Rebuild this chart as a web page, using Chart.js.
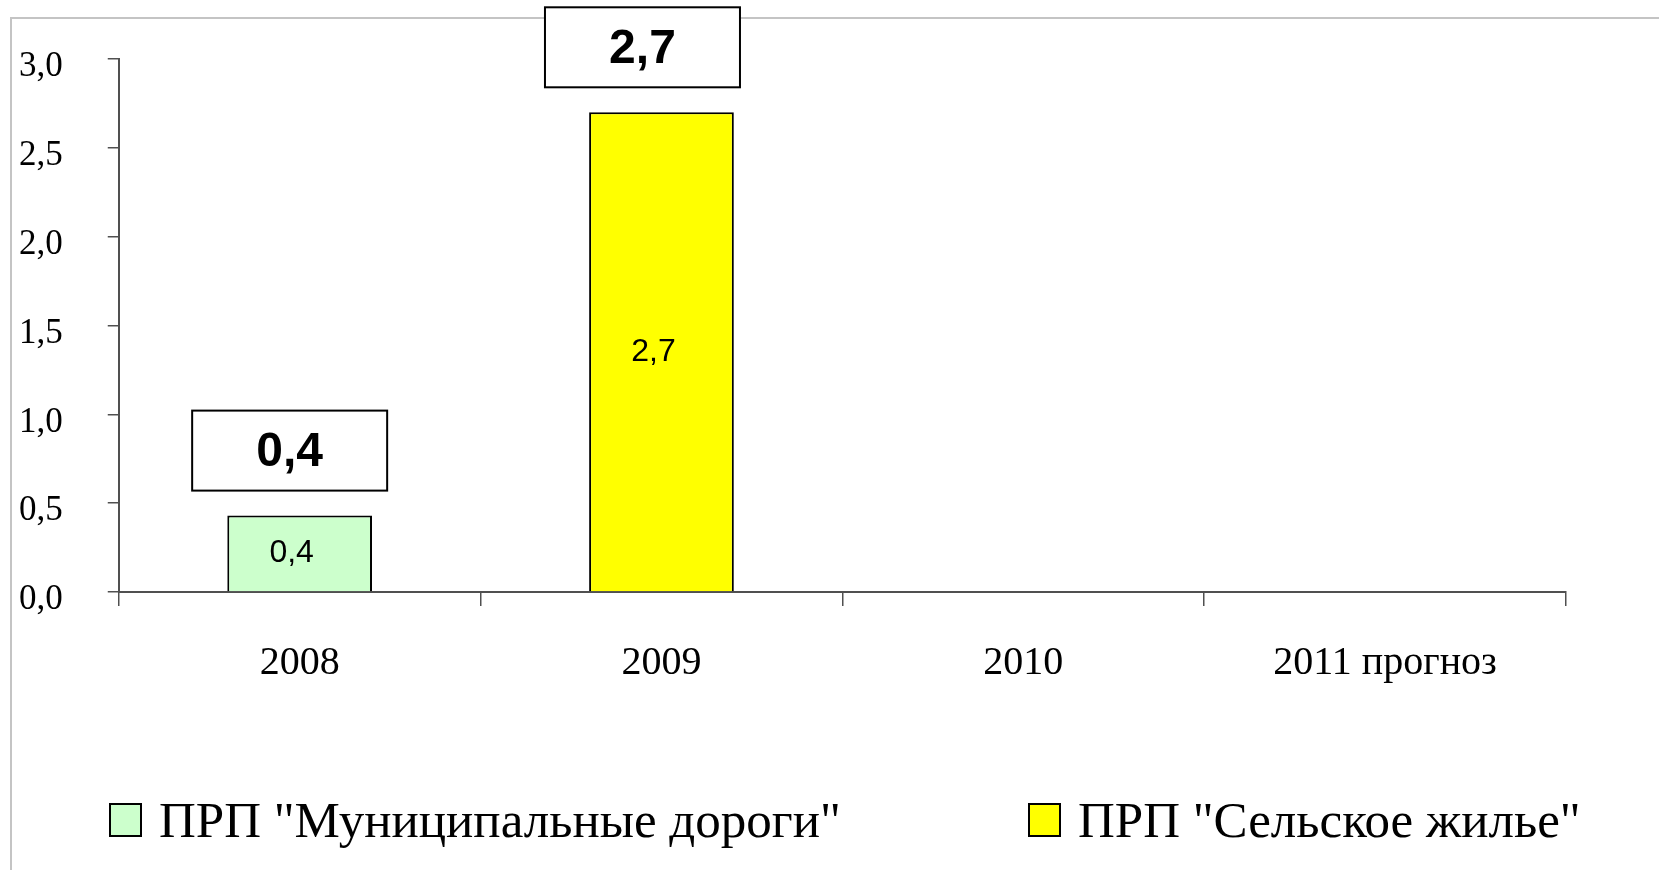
<!DOCTYPE html>
<html>
<head>
<meta charset="utf-8">
<script src="https://cdn.jsdelivr.net/npm/chart.js@4"></script>
<style>
  html, body { margin: 0; padding: 0; background: #fff; overflow: hidden; }
  #wrap { position: relative; width: 1659px; height: 870px; }
  #frame { position: absolute; left: 10px; top: 17px; width: 1700px; height: 900px;
           border-top: 2px solid #c4c4c4; border-left: 2px solid #c4c4c4; }
  #graph01 { position: absolute; left: 0; top: 0; }
  .leg-item { position: absolute; top: 792px; height: 56px; display: flex; align-items: center;
              font: 51px "Liberation Serif", "Times New Roman", serif; color: #000; white-space: nowrap; }
  .leg-box { width: 29px; height: 30px; border: 2px solid #000; margin-right: 17px; }
</style>
</head>
<body>
<div id="wrap">
  <div id="frame"></div>
  <canvas id="graph01" width="1659" height="870"></canvas>
  <div id="legenda"></div>
</div>
<script>
const categorias = ['2008', '2009', '2010', '2011 прогноз']
const serieNomes = ['ПРП "Муниципальные дороги"', 'ПРП "Сельское жилье"']
const dorogi = [0.43, null, null, null]
const zhilye = [null, 2.7, null, null]
const yTicks = [0, 0.5, 1.0, 1.5, 2.0, 2.5, 3.0]

const fmt = v => Number(v).toFixed(1).replace('.', ',')

// deslocamento horizontal das caixas (por serie)
const caixaShift = [-10, -19]

// caixas com o valor em cima de cada barra + numero dentro da barra
const labelsPlugin = {
  id: 'labelsPlugin',
  afterDatasetsDraw(chart) {
    const ctx = chart.ctx
    chart.data.datasets.forEach((ds, i) => {
      const meta = chart.getDatasetMeta(i)
      meta.data.forEach((bar, j) => {
        const v = ds.data[j]
        if (v === null || v === undefined) return
        ctx.save()
        // numero dentro
        ctx.fillStyle = '#000'
        ctx.font = '32px "Liberation Sans", Arial, sans-serif'
        ctx.textAlign = 'center'
        ctx.textBaseline = 'middle'
        ctx.fillText(fmt(v), bar.x - 8, (bar.y + bar.base) / 2)
        // caixa
        const w = 195, h = 80
        const cx = bar.x + caixaShift[i]
        const bottom = bar.y - 25
        ctx.fillStyle = '#fff'
        ctx.fillRect(cx - w / 2, bottom - h, w, h)
        ctx.lineWidth = 2
        ctx.strokeStyle = '#000'
        ctx.strokeRect(cx - w / 2, bottom - h, w, h)
        ctx.fillStyle = '#000'
        ctx.font = 'bold 48px "Liberation Sans", Arial, sans-serif'
        ctx.fillText(fmt(v), cx, bottom - h / 2 + 2)
        ctx.restore()
      })
    })
  }
}

const line01 = document.getElementById('graph01')

const grafico = new Chart(line01, {
  type: 'bar',
  data: {
    labels: categorias,
    datasets: [
      {
        label: serieNomes[0],
        data: dorogi,
        backgroundColor: '#ccffcc',
        borderColor: '#000',
        borderWidth: 2,
        grouped: false,
        categoryPercentage: 1,
        barPercentage: 0.4
      },
      {
        label: serieNomes[1],
        data: zhilye,
        backgroundColor: '#ffff00',
        borderColor: '#000',
        borderWidth: 2,
        grouped: false,
        categoryPercentage: 1,
        barPercentage: 0.4
      }
    ]
  },
  options: {
    responsive: false,
    animation: false,
    layout: {
      padding: { left: -26, right: 93, top: 59, bottom: 150 }
    },
    scales: {
      x: {
        grid: { offset: true, drawOnChartArea: false, tickLength: 14, color: '#505050', lineWidth: 1.5 },
        border: { color: '#505050', width: 2 },
        ticks: {
          color: '#000',
          padding: 33,
          font: { family: '"Liberation Serif", "Times New Roman", serif', size: 40 }
        }
      },
      y: {
        min: 0,
        max: 3,
        afterBuildTicks: axis => { axis.ticks = yTicks.map(v => ({ value: v })) },
        // o padding dos ticks nao deve empurrar a area do grafico
        afterFit: axis => { axis.paddingTop = 0; axis.paddingBottom = 0 },
        grid: { drawOnChartArea: false, tickLength: 11, color: '#505050', lineWidth: 1.5 },
        border: { color: '#505050', width: 2 },
        ticks: {
          color: '#000',
          padding: 45,
          labelOffset: 8,
          callback: v => fmt(v),
          font: { family: '"Liberation Serif", "Times New Roman", serif', size: 35 }
        }
      }
    },
    plugins: {
      tooltip: { enabled: false },
      legend: { display: false }
    }
  },
  plugins: [labelsPlugin]
})

// legenda em html, a partir dos datasets
const legenda = document.getElementById('legenda')
const legX = [109, 1028]
grafico.data.datasets.forEach((ds, i) => {
  const item = document.createElement('div')
  item.className = 'leg-item'
  item.style.left = legX[i] + 'px'
  item.innerHTML = `<span class="leg-box" style="background:${ds.backgroundColor}"></span>${ds.label}`
  legenda.appendChild(item)
})
</script>
</body>
</html>
